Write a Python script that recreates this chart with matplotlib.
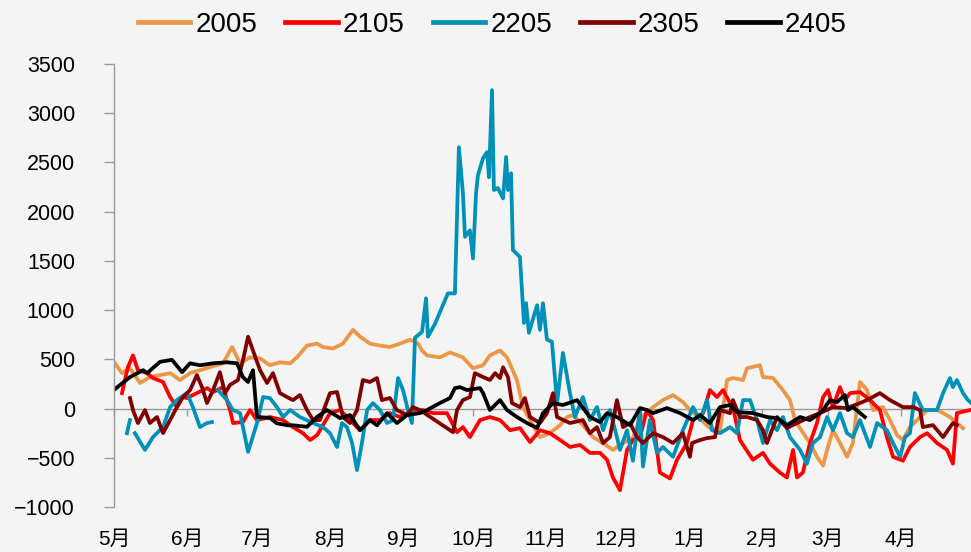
import numpy as np
import matplotlib.pyplot as plt

plt.rcParams['font.family'] = ['Liberation Sans', 'Noto Sans CJK SC', 'DejaVu Sans']

# (day since 1 May, spread) readings for each contract year
s2005 = [(0.4, 460), (3.4, 360), (6.8, 410), (11.1, 260), (15.3, 320), (19.6, 340), (23.9, 360),
         (28.1, 290), (32.4, 360), (36.6, 390), (40.9, 420), (46.4, 460), (50.3, 625), (53.7, 460),
         (57.9, 520), (62.2, 510), (66.4, 440), (70.7, 470), (75, 460), (77.9, 520), (82.2, 640),
         (86.5, 660), (89, 625), (93.3, 610), (97.5, 660), (101.8, 800), (104.8, 730), (109, 660),
         (113.3, 640), (117.5, 625), (121.8, 660), (126.1, 700), (129.5, 660), (131.2, 590),
         (133.3, 540), (138.8, 520), (143.1, 570), (148.6, 520), (152.9, 410), (157.2, 440),
         (160.1, 540), (164.4, 590), (167.4, 520), (171.6, 290), (174.2, 15), (177.2, -117),
         (181.4, -290), (185.7, -250), (190, -168), (192.9, -86), (195.5, -66), (199.7, -168),
         (204, -290), (208.3, -350), (212.5, -420), (216.8, -350), (221, -300), (224, -100),
         (229.6, 15), (233.8, 86), (238.1, 137), (242.3, 66), (245.3, -15), (249.6, -100),
         (253.8, -200), (258.1, -220), (261.1, 290), (263.6, 310), (267.9, 290), (269.6, 410),
         (275.1, 440), (276.4, 320), (280.7, 310), (284.9, 188), (287.9, 86), (290, -117),
         (292.2, -200), (296.4, -350), (299.4, -490), (302, -580), (303.7, -420), (306.2, -220),
         (309.2, -350), (312.2, -490), (314.7, -350), (317.7, 270), (320.7, 188), (323.3, -15),
         (327.5, 15), (330.5, -117), (333.5, -270), (336, -320), (339, -188), (342, -117),
         (346.3, -15), (350.5, -15), (353.1, -46), (356, -86), (359, -147), (361.6, -198)]

s2105 = [(3.4, 157), (5.9, 420), (8.1, 540), (10.2, 390), (14.1, 360), (16.6, 310), (20.9, 270),
         (23.9, 117), (26.8, 15), (29, 117), (31.1, 107), (35.3, 157), (39.6, 208), (42.2, 168),
         (46.4, 218), (49.4, -15), (50.7, -147), (54.9, -137), (57.9, -15), (60.9, -117),
         (66.4, -86), (72, -117), (76.2, -188), (80.5, -250), (83.5, -320), (86.5, -270),
         (92, -46), (96.3, -15), (100.5, -117), (104.8, -220), (109, -117), (113.3, -117),
         (117.5, -46), (121.8, -86), (127.3, -15), (131.6, -15), (135.9, -46), (141.8, -46),
         (146.1, -240), (148.6, -188), (151.6, -290), (155.9, -117), (160.1, -86), (164.4, -117),
         (168.7, -220), (172.9, -198), (177.2, -340), (181.4, -220), (185.7, -250), (190, -320),
         (194.2, -390), (198.5, -370), (202.7, -450), (207, -450), (210, -520), (212.5, -700),
         (215.5, -830), (218.5, -420), (221, -320), (224, -290), (227, -15), (229.6, -117),
         (232.5, -650), (236.8, -710), (239.8, -520), (242.3, -420), (244, -350), (246.6, -117),
         (250.9, -46), (253.8, 188), (256.8, 117), (259.4, 188), (262.4, 56), (263.6, 15),
         (266.6, -320), (272.1, -520), (276.4, -450), (279.4, -560), (283.6, -650), (286.6, -700),
         (289.2, -420), (290.9, -700), (293.4, -650), (296.4, -350), (299.4, -147), (302, 117),
         (304.1, 188), (306.2, 15), (309.2, 218), (311.3, 86), (313.5, 157), (317.7, 168),
         (322, 86), (326.2, -15), (329.2, -290), (331.8, -490), (336, -530), (339, -390),
         (343.3, -290), (346.3, -250), (350.5, -350), (354.8, -420), (357.3, -560), (359, -46),
         (364.6, -15)]

s2205 = [(5.5, -250), (6.8, -117), (7.5, np.nan), (8.9, -250), (13.2, -420), (16.6, -290),
         (20.9, -188), (23.9, 15), (26.8, 86), (31.1, 157), (33.6, 15), (36.6, -188), (39.6, -147),
         (41.7, -137), (43, np.nan), (44.3, 188), (48.1, 86), (50.7, -15), (53.7, -46),
         (57.1, -440), (60.9, -147), (63.5, 117), (66.4, 107), (69.4, 15), (72, -86), (75, -15),
         (79.2, -86), (84.8, -147), (89, -188), (92, -250), (95, -390), (97.1, -147), (99.2, -188),
         (101.4, -350), (103.5, -625), (105.6, -350), (107.8, -15), (110.3, 56), (113.3, -15),
         (116.3, -147), (118.8, -117), (121, 310), (123.1, 188), (125.2, -15), (126.9, -147),
         (128.2, 720), (131.2, 780), (132.9, 1120), (133.7, 730), (136.7, 860), (139.7, 1030),
         (142.2, 1170), (145.2, 1170), (146.9, 2655), (148.6, 2190), (149.5, 1745), (151.6, 1810),
         (152.9, 1525), (154.2, 2190), (155, 2370), (157.2, 2545), (158.9, 2605), (159.7, 2350),
         (161, 3235), (161.8, 2220), (163.5, 2240), (165.7, 2135), (167, 2555), (167.8, 2220),
         (169.1, 2390), (169.9, 1610), (172.9, 1540), (174.6, 870), (175.5, 1070), (176.7, 770),
         (180.2, 1050), (181.4, 800), (182.7, 1070), (184.4, 700), (186.5, 680), (188.7, 56),
         (191.2, 565), (194.2, 157), (196.3, -86), (199.7, 117), (202.7, -117), (205.7, 15),
         (208.3, -220), (211.2, -15), (214.2, -290), (215.5, -420), (218.5, -220), (221, -530),
         (224, -15), (225.3, -590), (228.2, -117), (231.3, -450), (233.8, -390), (238.1, -490),
         (242.3, -220), (246.6, 15), (249.6, -117), (252.6, 86), (254.7, -220), (258.1, -250),
         (262.4, -188), (265.3, -250), (267.9, 86), (270.9, 86), (273.9, -117), (276.4, -350),
         (279.4, -117), (282.4, -220), (284.9, -86), (287.9, -290), (292.2, -420), (295.1, -560),
         (297.7, -350), (300.7, -290), (303.7, -86), (306.2, -220), (309.2, -46), (312.2, -250),
         (314.7, -290), (317.7, -117), (322, -390), (325, -147), (329.2, -220), (331.8, -350),
         (334.8, -490), (336.9, -290), (339, -250), (341.1, 157), (344.5, -15), (350.5, -15),
         (353.1, 157), (356, 310), (357.3, 218), (359, 290), (361.6, 157), (363.7, 86), (365, 60)]

s2305 = [(6.8, 107), (8.1, -15), (10.2, -147), (13.2, -15), (15.3, -147), (18.3, -86), (20.9, -250),
         (23.9, -117), (26.8, 15), (29.4, 117), (32.4, 188), (35.3, 340), (37.5, 218), (39.6, 56),
         (42.2, 188), (45.1, 370), (47.3, 157), (49.4, 240), (52.8, 290), (54.9, 490), (57.1, 730),
         (59.2, 590), (62.2, 390), (65.2, 260), (67.7, 360), (70.7, 157), (73.7, 117), (76.2, 86),
         (79.2, 137), (82.2, -15), (84.8, -117), (87.7, -117), (92, 157), (95, 168), (97.5, -86),
         (100.5, -147), (103.5, -15), (106, 290), (109, 270), (112, 310), (114.1, 86),
         (117.5, 107), (120.5, -15), (124.8, -66), (127.3, 15), (130.3, -15), (144.4, -240),
         (146.1, -15), (148.6, 86), (151.6, 117), (153.7, 360), (157.2, 320), (160.1, 290),
         (162.3, 360), (164.4, 310), (165.7, 420), (167.8, 320), (169.5, 56), (172.9, 15),
         (175, 107), (177.2, -86), (181.4, -147), (184.4, -46), (187, 157), (188.7, -86),
         (194.2, -147), (199.7, -117), (202.7, -250), (205.7, -188), (208.3, -350), (211.2, -290),
         (214.2, 86), (216.8, -188), (219.8, -147), (222.7, -290), (225.3, -350), (229.6, -250),
         (233.8, -290), (238.1, -350), (242.3, -250), (245.3, -490), (246.2, -350), (249.6, -320),
         (252.6, -300), (256, -290), (258.1, -15), (262.4, -46), (263.6, 86), (266.6, -86),
         (269.6, -86), (273.9, -117), (276.4, -220), (278.1, -350), (282.4, -86), (286.6, -198),
         (290.9, -147), (296.4, -86), (300.7, -46), (306.2, 15), (312.2, 5), (317.7, 56),
         (320.7, 86), (326.2, 157), (330.5, 86), (336, 15), (340.3, 15), (343.3, -15),
         (344.5, -188), (348.8, -168), (353.1, -290), (357.3, -147), (359, -168)]

s2405 = [(0, 190), (6.8, 320), (12.4, 390), (14.1, 360), (19.6, 475), (24.7, 495), (29, 370),
         (32.4, 460), (36.6, 440), (42.2, 460), (48.1, 470), (52.4, 460), (54.9, 320), (57.1, 270),
         (59.2, 390), (60.9, -85), (66.4, -95), (69.4, -150), (74.1, -170), (76.2, -170),
         (82.2, -185), (86.5, -85), (90.7, -15), (96.3, -97), (100.5, -66), (104.8, -220),
         (109, -117), (112, -170), (116.3, -46), (120.5, -147), (124.8, -66), (130.3, -46),
         (133.3, -15), (138.8, 56), (143.1, 107), (145.2, 208), (147.4, 218), (150.3, 188),
         (155.9, 208), (157.2, 157), (160.1, -15), (164.4, 86), (167.4, -15), (171.6, -86),
         (175.9, -147), (180.2, -198), (182.7, -46), (187, 56), (191.2, 36), (197.2, 86),
         (202.7, -86), (207, -137), (210, -46), (214.2, -86), (219.8, -168), (224, 5), (227, -15),
         (229.6, -46), (235.5, 5), (241.1, -46), (246.6, -117), (249.6, -66), (253.8, -147),
         (258.1, 15), (262.4, 36), (265.3, -36), (272.1, -46), (278.1, -86), (282.4, -97),
         (286.6, -168), (292.2, -86), (296.4, -117), (300.7, -46), (302, -15), (304.9, 86),
         (307.9, 66), (311.3, 137), (312.6, -15), (314.7, 15), (319.8, -86)]

series = ['2005', '2105', '2205', '2305', '2405']
colors = ['#EC9646', '#FF0000', '#0091B8', '#800000', '#000000']
data = [s2005, s2105, s2205, s2305, s2405]

month_days = [0, 31, 61, 92, 123, 153, 184, 214, 245, 276, 304, 335]
month_labels = ['5月', '6月', '7月', '8月', '9月', '10月', '11月', '12月', '1月', '2月', '3月', '4月']

bg = '#F4F4F4'
fig = plt.figure(figsize=(9.71, 5.52), dpi=100, facecolor=bg)
ax = fig.add_axes([0.1174, 0.0815, 0.8826, 0.8025], facecolor=bg)

for name, col, pts in zip(series, colors, data):
    d, v = np.array(pts, dtype=float).T
    ax.plot(d, v, color=col, lw=2.7, label=name, solid_joinstyle='round')

ax.set_xlim(0, 365)
ax.set_ylim(-1000, 3500)
ax.set_yticks(np.arange(-1000, 3501, 500))
ax.set_xticks(month_days)
ax.set_xticklabels(month_labels)

for s in ['top', 'right']:
    ax.spines[s].set_visible(False)
ax.spines['bottom'].set_position(('data', 0))
for s in ['bottom', 'left']:
    ax.spines[s].set_color('#999999')
    ax.spines[s].set_linewidth(1.0)
ax.spines['bottom'].set_zorder(0.5)

ax.tick_params(axis='x', direction='out', length=5, width=1, color='#999999', pad=82, labelsize=15)
ax.tick_params(axis='y', direction='out', length=7, width=1, color='#999999', pad=21, labelsize=15.5)

fig.legend(loc='center', bbox_to_anchor=(0.507, 0.955), ncol=5, frameon=False, fontsize=20,
           handlelength=1.9, handletextpad=0.18, columnspacing=1.0, borderpad=0)
for line in fig.legends[0].get_lines():
    line.set_linewidth(3.4)

fig.savefig('out.png', dpi=100, facecolor=bg)
